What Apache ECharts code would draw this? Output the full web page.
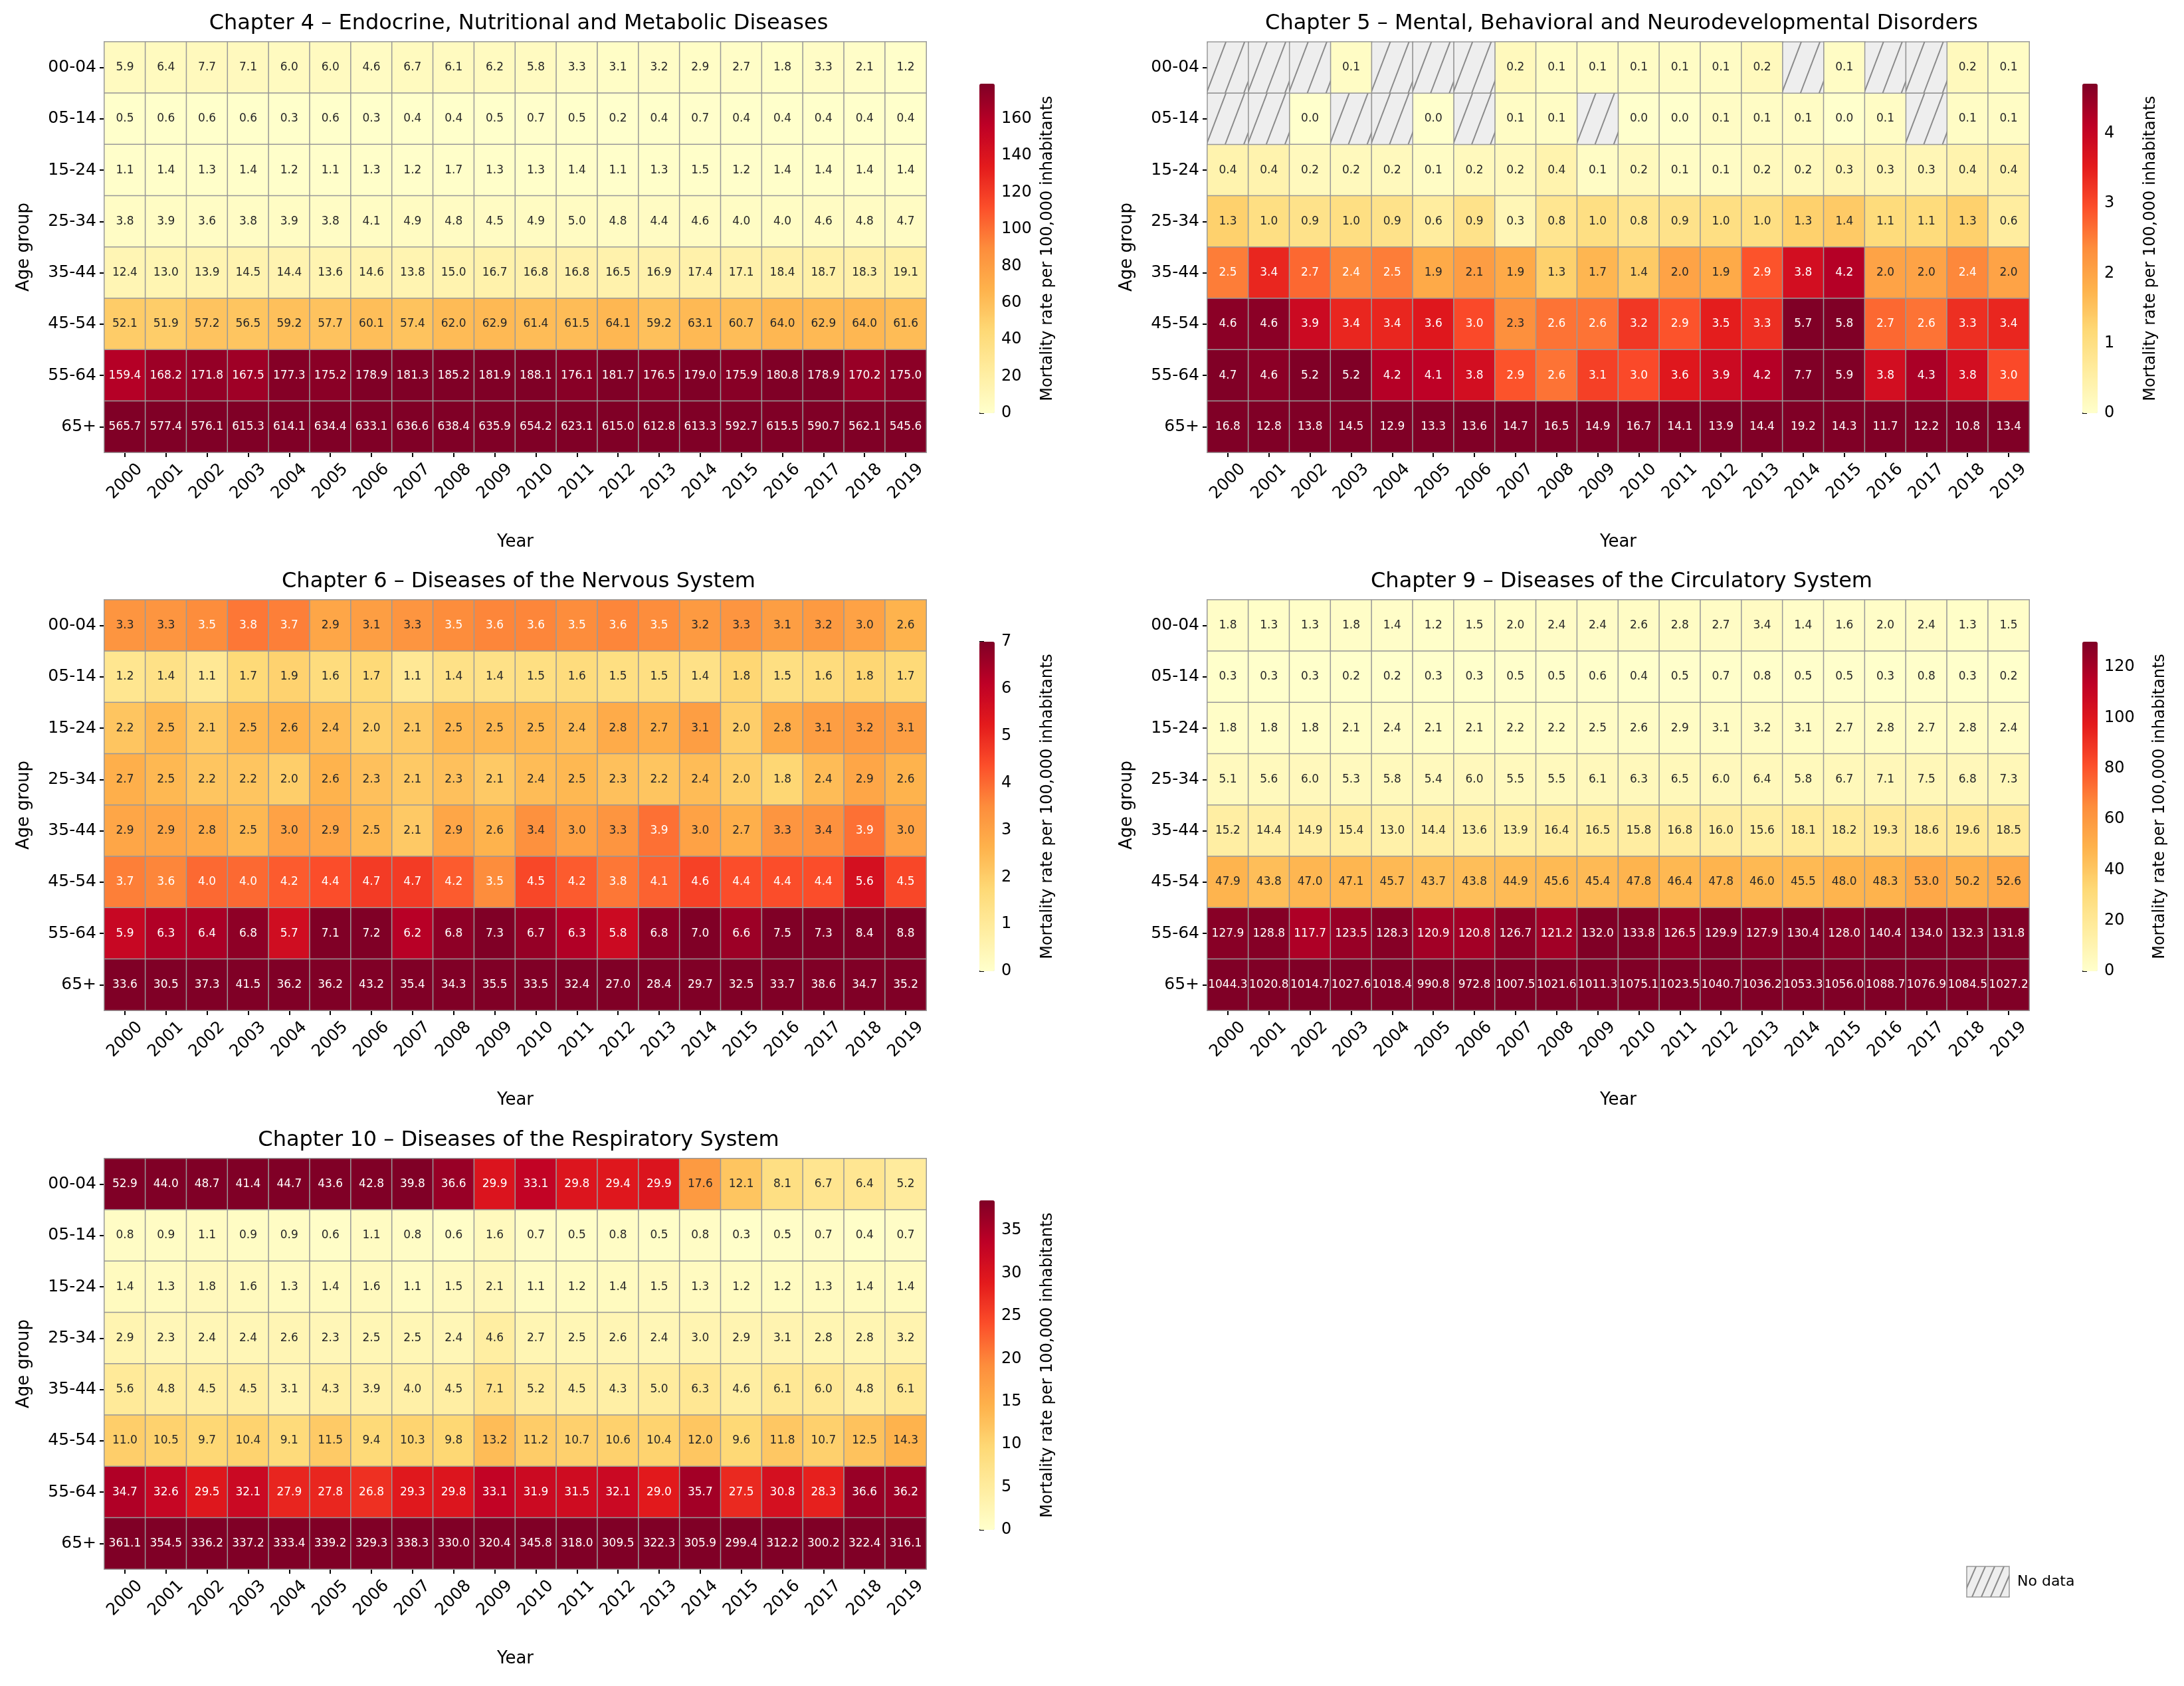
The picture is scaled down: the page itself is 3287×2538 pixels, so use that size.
<!DOCTYPE html>
<html><head><meta charset="utf-8">
<script src="https://cdn.jsdelivr.net/npm/echarts@6/dist/echarts.min.js"></script>
<style>html,body{margin:0;padding:0;background:#fff}#c{width:3287px;height:2538px}</style>
</head><body><div id="c"></div>
<script>
const years = ['2000','2001','2002','2003','2004','2005','2006','2007','2008','2009','2010','2011','2012','2013','2014','2015','2016','2017','2018','2019'];
const ageGroups = ['00-04','05-14','15-24','25-34','35-44','45-54','55-64','65+'];

const ch4Title = 'Chapter 4 – Endocrine, Nutritional and Metabolic Diseases';
const ch4 = [
[5.9,6.4,7.7,7.1,6.0,6.0,4.6,6.7,6.1,6.2,5.8,3.3,3.1,3.2,2.9,2.7,1.8,3.3,2.1,1.2],
[0.5,0.6,0.6,0.6,0.3,0.6,0.3,0.4,0.4,0.5,0.7,0.5,0.2,0.4,0.7,0.4,0.4,0.4,0.4,0.4],
[1.1,1.4,1.3,1.4,1.2,1.1,1.3,1.2,1.7,1.3,1.3,1.4,1.1,1.3,1.5,1.2,1.4,1.4,1.4,1.4],
[3.8,3.9,3.6,3.8,3.9,3.8,4.1,4.9,4.8,4.5,4.9,5.0,4.8,4.4,4.6,4.0,4.0,4.6,4.8,4.7],
[12.4,13.0,13.9,14.5,14.4,13.6,14.6,13.8,15.0,16.7,16.8,16.8,16.5,16.9,17.4,17.1,18.4,18.7,18.3,19.1],
[52.1,51.9,57.2,56.5,59.2,57.7,60.1,57.4,62.0,62.9,61.4,61.5,64.1,59.2,63.1,60.7,64.0,62.9,64.0,61.6],
[159.4,168.2,171.8,167.5,177.3,175.2,178.9,181.3,185.2,181.9,188.1,176.1,181.7,176.5,179.0,175.9,180.8,178.9,170.2,175.0],
[565.7,577.4,576.1,615.3,614.1,634.4,633.1,636.6,638.4,635.9,654.2,623.1,615.0,612.8,613.3,592.7,615.5,590.7,562.1,545.6]];

const ch5Title = 'Chapter 5 – Mental, Behavioral and Neurodevelopmental Disorders';
const ch5 = [
[null,null,null,0.1,null,null,null,0.2,0.1,0.1,0.1,0.1,0.1,0.2,null,0.1,null,null,0.2,0.1],
[null,null,0.0,null,null,0.0,null,0.1,0.1,null,0.0,0.0,0.1,0.1,0.1,0.0,0.1,null,0.1,0.1],
[0.4,0.4,0.2,0.2,0.2,0.1,0.2,0.2,0.4,0.1,0.2,0.1,0.1,0.2,0.2,0.3,0.3,0.3,0.4,0.4],
[1.3,1.0,0.9,1.0,0.9,0.6,0.9,0.3,0.8,1.0,0.8,0.9,1.0,1.0,1.3,1.4,1.1,1.1,1.3,0.6],
[2.5,3.4,2.7,2.4,2.5,1.9,2.1,1.9,1.3,1.7,1.4,2.0,1.9,2.9,3.8,4.2,2.0,2.0,2.4,2.0],
[4.6,4.6,3.9,3.4,3.4,3.6,3.0,2.3,2.6,2.6,3.2,2.9,3.5,3.3,5.7,5.8,2.7,2.6,3.3,3.4],
[4.7,4.6,5.2,5.2,4.2,4.1,3.8,2.9,2.6,3.1,3.0,3.6,3.9,4.2,7.7,5.9,3.8,4.3,3.8,3.0],
[16.8,12.8,13.8,14.5,12.9,13.3,13.6,14.7,16.5,14.9,16.7,14.1,13.9,14.4,19.2,14.3,11.7,12.2,10.8,13.4]];

const ch6Title = 'Chapter 6 – Diseases of the Nervous System';
const ch6 = [
[3.3,3.3,3.5,3.8,3.7,2.9,3.1,3.3,3.5,3.6,3.6,3.5,3.6,3.5,3.2,3.3,3.1,3.2,3.0,2.6],
[1.2,1.4,1.1,1.7,1.9,1.6,1.7,1.1,1.4,1.4,1.5,1.6,1.5,1.5,1.4,1.8,1.5,1.6,1.8,1.7],
[2.2,2.5,2.1,2.5,2.6,2.4,2.0,2.1,2.5,2.5,2.5,2.4,2.8,2.7,3.1,2.0,2.8,3.1,3.2,3.1],
[2.7,2.5,2.2,2.2,2.0,2.6,2.3,2.1,2.3,2.1,2.4,2.5,2.3,2.2,2.4,2.0,1.8,2.4,2.9,2.6],
[2.9,2.9,2.8,2.5,3.0,2.9,2.5,2.1,2.9,2.6,3.4,3.0,3.3,3.9,3.0,2.7,3.3,3.4,3.9,3.0],
[3.7,3.6,4.0,4.0,4.2,4.4,4.7,4.7,4.2,3.5,4.5,4.2,3.8,4.1,4.6,4.4,4.4,4.4,5.6,4.5],
[5.9,6.3,6.4,6.8,5.7,7.1,7.2,6.2,6.8,7.3,6.7,6.3,5.8,6.8,7.0,6.6,7.5,7.3,8.4,8.8],
[33.6,30.5,37.3,41.5,36.2,36.2,43.2,35.4,34.3,35.5,33.5,32.4,27.0,28.4,29.7,32.5,33.7,38.6,34.7,35.2]];

const ch9Title = 'Chapter 9 – Diseases of the Circulatory System';
const ch9 = [
[1.8,1.3,1.3,1.8,1.4,1.2,1.5,2.0,2.4,2.4,2.6,2.8,2.7,3.4,1.4,1.6,2.0,2.4,1.3,1.5],
[0.3,0.3,0.3,0.2,0.2,0.3,0.3,0.5,0.5,0.6,0.4,0.5,0.7,0.8,0.5,0.5,0.3,0.8,0.3,0.2],
[1.8,1.8,1.8,2.1,2.4,2.1,2.1,2.2,2.2,2.5,2.6,2.9,3.1,3.2,3.1,2.7,2.8,2.7,2.8,2.4],
[5.1,5.6,6.0,5.3,5.8,5.4,6.0,5.5,5.5,6.1,6.3,6.5,6.0,6.4,5.8,6.7,7.1,7.5,6.8,7.3],
[15.2,14.4,14.9,15.4,13.0,14.4,13.6,13.9,16.4,16.5,15.8,16.8,16.0,15.6,18.1,18.2,19.3,18.6,19.6,18.5],
[47.9,43.8,47.0,47.1,45.7,43.7,43.8,44.9,45.6,45.4,47.8,46.4,47.8,46.0,45.5,48.0,48.3,53.0,50.2,52.6],
[127.9,128.8,117.7,123.5,128.3,120.9,120.8,126.7,121.2,132.0,133.8,126.5,129.9,127.9,130.4,128.0,140.4,134.0,132.3,131.8],
[1044.3,1020.8,1014.7,1027.6,1018.4,990.8,972.8,1007.5,1021.6,1011.3,1075.1,1023.5,1040.7,1036.2,1053.3,1056.0,1088.7,1076.9,1084.5,1027.2]];

const ch10Title = 'Chapter 10 – Diseases of the Respiratory System';
const ch10 = [
[52.9,44.0,48.7,41.4,44.7,43.6,42.8,39.8,36.6,29.9,33.1,29.8,29.4,29.9,17.6,12.1,8.1,6.7,6.4,5.2],
[0.8,0.9,1.1,0.9,0.9,0.6,1.1,0.8,0.6,1.6,0.7,0.5,0.8,0.5,0.8,0.3,0.5,0.7,0.4,0.7],
[1.4,1.3,1.8,1.6,1.3,1.4,1.6,1.1,1.5,2.1,1.1,1.2,1.4,1.5,1.3,1.2,1.2,1.3,1.4,1.4],
[2.9,2.3,2.4,2.4,2.6,2.3,2.5,2.5,2.4,4.6,2.7,2.5,2.6,2.4,3.0,2.9,3.1,2.8,2.8,3.2],
[5.6,4.8,4.5,4.5,3.1,4.3,3.9,4.0,4.5,7.1,5.2,4.5,4.3,5.0,6.3,4.6,6.1,6.0,4.8,6.1],
[11.0,10.5,9.7,10.4,9.1,11.5,9.4,10.3,9.8,13.2,11.2,10.7,10.6,10.4,12.0,9.6,11.8,10.7,12.5,14.3],
[34.7,32.6,29.5,32.1,27.9,27.8,26.8,29.3,29.8,33.1,31.9,31.5,32.1,29.0,35.7,27.5,30.8,28.3,36.6,36.2],
[361.1,354.5,336.2,337.2,333.4,339.2,329.3,338.3,330.0,320.4,345.8,318.0,309.5,322.3,305.9,299.4,312.2,300.2,322.4,316.1]];

const colorbarMax = [179, 4.71, 7, 130, 38.5];
const colorbarStep = [20, 1, 1, 20, 5];

const cmap = ['#ffffcc','#ffeda0','#fed976','#feb24c','#fd8d3c','#fc4e2a','#e31a1c','#bd0026','#800026'];
function hex(h){return [1,3,5].map(i=>parseInt(h.substr(i,2),16));}
function colorAt(t){
  t=Math.max(0,Math.min(1,t));const p=t*(cmap.length-1);const i=Math.min(cmap.length-2,Math.floor(p));const f=p-i;
  const a=hex(cmap[i]),b=hex(cmap[i+1]);return a.map((v,k)=>v+(b[k]-v)*f);
}
function lum(rgb){const c=rgb.map(v=>{v/=255;return v<=0.03928?v/12.92:Math.pow((v+0.055)/1.055,2.4);});return 0.2126*c[0]+0.7152*c[1]+0.0722*c[2];}

const panels = [
  {title:ch4Title,data:ch4,gl:157,gt:63},
  {title:ch5Title,data:ch5,gl:1817,gt:63},
  {title:ch6Title,data:ch6,gl:157,gt:903},
  {title:ch9Title,data:ch9,gl:1817,gt:903},
  {title:ch10Title,data:ch10,gl:157,gt:1744}
];
const GW=1237, GH=618, FONT='DejaVu Sans';

const option={animation:false,backgroundColor:'#fff',title:[],grid:[],xAxis:[],yAxis:[],visualMap:[],series:[],graphic:[]};
let si=0;
panels.forEach((p,k)=>{
  const vmax=colorbarMax[k];
  option.title.push({text:p.title,left:p.gl+GW/2,top:p.gt-48,textAlign:'center',textStyle:{fontFamily:FONT,fontSize:32,fontWeight:'normal',color:'#000'}});
  const gi=option.grid.length;
  option.grid.push({left:p.gl,top:p.gt,width:GW,height:GH});
  option.xAxis.push({type:'category',gridIndex:gi,data:years,name:'Year',nameLocation:'middle',nameGap:122,
    nameTextStyle:{fontFamily:FONT,fontSize:26,color:'#000'},
    axisLine:{show:false},axisTick:{show:true,alignWithLabel:true,length:7,lineStyle:{color:'#000',width:2}},
    axisLabel:{rotate:45,align:'center',verticalAlign:'middle',fontFamily:FONT,fontSize:25,color:'#000',margin:44},splitLine:{show:false}});
  option.yAxis.push({type:'category',gridIndex:gi,data:ageGroups,inverse:true,name:'Age group',nameLocation:'middle',nameGap:108,
    nameTextStyle:{fontFamily:FONT,fontSize:26,color:'#000'},
    axisLine:{show:false},axisTick:{show:true,alignWithLabel:true,length:7,lineStyle:{color:'#000',width:2}},
    axisLabel:{fontFamily:FONT,fontSize:25,color:'#000',margin:12},splitLine:{show:false}});
  const cells=[],missing=[];
  p.data.forEach((row,r)=>row.forEach((v,c)=>{
    if(v===null){missing.push([c,r]);return;}
    const L=lum(colorAt(v/vmax));
    cells.push({value:[c,r,v],label:{color:L<0.408?'#fff':'#262626'}});
  }));
  option.series.push({type:'heatmap',xAxisIndex:gi,yAxisIndex:gi,data:cells,
    label:{show:true,fontFamily:FONT,fontSize:17,formatter:q=>q.value[2].toFixed(1)},
    itemStyle:{borderColor:'#999',borderWidth:1.5},emphasis:{disabled:true}});
  const hs=si; si++;
  if(missing.length){
    option.series.push({type:'custom',xAxisIndex:gi,yAxisIndex:gi,data:missing,silent:true,
      renderItem:function(params,api){
        const c=api.coord([api.value(0),api.value(1)]);const s=api.size([1,1]);
        const x0=c[0]-s[0]/2,y0=c[1]-s[1]/2,w=s[0],h=s[1];
        const kids=[{type:'rect',shape:{x:x0,y:y0,width:w,height:h},style:{fill:'#eeeeee',stroke:'#999',lineWidth:1.5}}];
        const lines=[];const dx=h*0.38,sp=w/2.2;
        for(let x=x0-dx;x<x0+w+sp;x+=sp){lines.push({type:'line',shape:{x1:x,y1:y0+h,x2:x+dx,y2:y0},style:{stroke:'#8a8a8a',lineWidth:2}});}
        kids.push({type:'group',children:lines,clipPath:{type:'rect',shape:{x:x0,y:y0,width:w,height:h}}});
        return {type:'group',children:kids};
      }});
    si++;
  }
  const cbL=p.gl+GW+80, cbT=p.gt+63, cbH=496;
  option.visualMap.push({type:'continuous',min:0,max:vmax,seriesIndex:hs,dimension:2,inRange:{color:cmap},
    calculable:false,realtime:false,left:cbL,top:cbT,itemWidth:23,itemHeight:cbH,padding:0,text:['',''],showLabel:false,
    handleStyle:{opacity:0},indicatorStyle:{opacity:0}});
  const cg=option.grid.length;
  option.grid.push({left:cbL,top:cbT,width:23,height:cbH});
  option.xAxis.push({type:'value',gridIndex:cg,show:false});
  const exact = Math.abs(vmax/colorbarStep[k]-Math.round(vmax/colorbarStep[k]))<1e-9;
  option.yAxis.push({type:'value',gridIndex:cg,position:'right',min:0,max:vmax,interval:colorbarStep[k],
    name:'Mortality rate per 100,000 inhabitants',nameLocation:'middle',nameRotate:90,nameGap:k===3?82:68,
    nameTextStyle:{fontFamily:FONT,fontSize:24,color:'#000'},
    axisLine:{show:false},axisTick:{show:true,length:7,lineStyle:{color:'#000',width:2}},
    axisLabel:{fontFamily:FONT,fontSize:24,color:'#000',margin:10,showMaxLabel:exact},splitLine:{show:false}});
});
const lx=2960,ly=2358,lw=64,lh=46;
const hl=[];for(let x=lx-20;x<lx+lw+15;x+=14){hl.push({type:'line',shape:{x1:x,y1:ly+lh,x2:x+20,y2:ly},style:{stroke:'#8a8a8a',lineWidth:2}});}
option.graphic.push({type:'group',children:[
  {type:'rect',shape:{x:lx,y:ly,width:lw,height:lh},style:{fill:'#eeeeee',stroke:'#999',lineWidth:1.5}},
  {type:'group',children:hl,clipPath:{type:'rect',shape:{x:lx,y:ly,width:lw,height:lh}}},
  {type:'text',style:{x:lx+lw+12,y:ly+lh/2,text:'No data',fontFamily:FONT,fontSize:22,fill:'#000',verticalAlign:'middle'}}
]});
const chart=echarts.init(document.getElementById('c'));
chart.setOption(option);
</script></body></html>
